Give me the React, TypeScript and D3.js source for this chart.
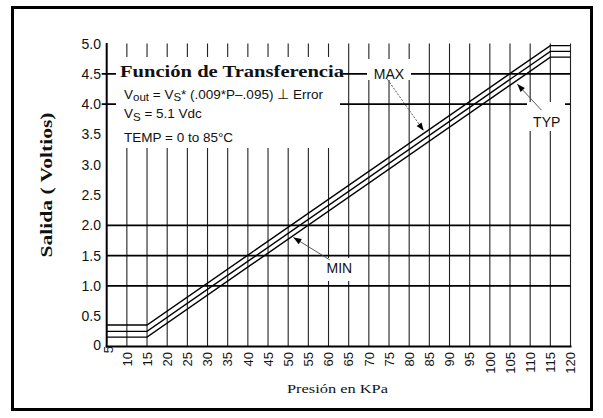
import React from 'react';
import * as d3 from 'd3';

const W = 603;
const H = 418;

// x-axis (pressure, KPa) tick values
const pressureTicks = [5, 10, 15, 20, 25, 30, 35, 40, 45, 50, 55, 60, 65, 70, 75, 80, 85, 90, 95, 100, 105, 110, 115, 120];
// y-axis (output, volts) tick values and labels
const voltTicks = [0, 0.5, 1.0, 1.5, 2.0, 2.5, 3.0, 3.5, 4.0, 4.5, 5.0];
const voltLabels = ['0', '0.5', '1.0', '1.5', '2.0', '2.5', '3.0', '3.5', '4.0', '4.5', '5.0'];
// horizontal grid lines
const fullGrid = [1.0, 1.5, 2.0];
const partialGrid = [4.0, 4.5];

// transfer function curves (breakpoints in KPa)
const curveP = [5, 15, 115, 120];
const maxV = [0.355, 0.355, 4.965, 4.965];
const typV = [0.25, 0.25, 4.87, 4.87];
const minV = [0.155, 0.155, 4.775, 4.775];

// annotations
const annLabels = ['MAX', 'TYP', 'MIN'];
const annLabelP = [75, 114.1, 62.7];
const annLabelV = [4.5, 3.71, 1.3];
const annFromP = [74.6, 112.8, 60.3];
const annFromV = [4.41, 3.9, 1.43];
const annToP = [83.6, 106.8, 51.3];
const annToV = [3.56, 4.33, 1.8];
const annDashed = [true, false, false];

const x = d3.scaleLinear().domain([5, 120]).range([106.7, 570.5]);
const y = d3.scaleLinear().domain([0, 5]).range([346.5, 43.5]);

const NARROW = "'Liberation Sans Narrow', 'Arial Narrow', 'Liberation Sans', Arial, sans-serif";
const SANS = "'Liberation Sans', Arial, sans-serif";
const SERIF = "'Liberation Serif', 'Times New Roman', serif";

export default function App() {
  const line = d3
    .line<number>()
    .x((_, i) => x(curveP[i]))
    .y((v) => y(v));

  const x0 = x(5);
  const x1 = x(120);
  const yTop = y(5);
  const yBot = y(0);

  const arrowHead = (fx: number, fy: number, tx: number, ty: number) => {
    const ang = Math.atan2(ty - fy, tx - fx);
    const len = 8;
    const wid = 3;
    const bx = tx - len * Math.cos(ang);
    const by = ty - len * Math.sin(ang);
    const px = -Math.sin(ang) * wid;
    const py = Math.cos(ang) * wid;
    return `M${tx},${ty}L${bx + px},${by + py}L${bx - px},${by - py}Z`;
  };

  return (
    <svg
      width={W}
      height={H}
      style={{ position: 'absolute', left: 0, top: 0, background: '#fff' }}
    >
      <rect x={0} y={0} width={W} height={H} fill="#fff" />
      {/* outer frame */}
      <rect x={12.5} y={7.5} width={579} height={402} fill="none" stroke="#000" strokeWidth={3} />

      {/* vertical grid */}
      {pressureTicks.slice(1).map((p) => (
        <line key={'v' + p} x1={x(p)} x2={x(p)} y1={yTop} y2={yBot} stroke="#222" strokeWidth={1.1} />
      ))}
      {/* horizontal grid */}
      {fullGrid.map((v) => (
        <line key={'h' + v} x1={x0} x2={x1} y1={y(v)} y2={y(v)} stroke="#000" strokeWidth={1.8} />
      ))}
      {partialGrid.map((v) => (
        <line key={'p' + v} x1={x0 - 5} x2={x1} y1={y(v)} y2={y(v)} stroke="#000" strokeWidth={1.8} />
      ))}

      {/* white label backgrounds */}
      <rect x={116} y={57} width={224} height={91} fill="#fff" />
      <rect x={367} y={59} width={44} height={21} fill="#fff" />
      <rect x={527} y={102} width={38} height={29} fill="#fff" />
      <rect x={321} y={258} width={36} height={23} fill="#fff" />

      {/* axes */}
      <line x1={x0} x2={x0} y1={yTop - 0.5} y2={yBot + 1} stroke="#000" strokeWidth={2} />
      <line x1={x0 - 1} x2={x1 + 1} y1={yBot} y2={yBot} stroke="#000" strokeWidth={2} />

      {/* curves */}
      {[maxV, typV, minV].map((vals, i) => (
        <path key={'c' + i} d={line(vals) || ''} fill="none" stroke="#000" strokeWidth={1.4} />
      ))}

      {/* y tick labels */}
      {voltTicks.map((v, i) => (
        <text
          key={'yl' + v}
          x={101}
          y={y(v) - (i === 0 ? 2 : 0)}
          dy="0.36em"
          textAnchor="end"
          fontFamily={NARROW}
          fontSize={14}
          fill="#111"
        >
          {voltLabels[i]}
        </text>
      ))}

      {/* x tick labels */}
      {pressureTicks.map((p, i) => (
        <text
          key={'xl' + p}
          transform={`translate(${x(p) + (i === 0 ? 2 : 0)},${i === 0 ? yBot - 0.5 : yBot + 5.5}) rotate(-90)`}
          dy="0.36em"
          textAnchor="end"
          fontFamily={SANS}
          fontSize={13}
          fill="#111"
        >
          {String(p)}
        </text>
      ))}

      {/* axis titles */}
      <text
        transform="translate(52,185) rotate(-90)"
        textAnchor="middle"
        fontFamily={SERIF}
        fontWeight="bold"
        fontSize={17}
        textLength={145}
        lengthAdjust="spacingAndGlyphs"
        fill="#111"
      >
        Salida ( Voltios)
      </text>
      <text
        x={337.5}
        y={393}
        textAnchor="middle"
        fontFamily={SERIF}
        fontSize={13}
        textLength={101}
        lengthAdjust="spacingAndGlyphs"
        fill="#111"
      >
        Presión en KPa
      </text>

      {/* transfer function box text */}
      <text
        x={120}
        y={76.5}
        fontFamily={SERIF}
        fontWeight="bold"
        fontSize={17}
        textLength={224}
        lengthAdjust="spacingAndGlyphs"
        fill="#111"
      >
        Función de Transferencia
      </text>
      <text x={124} y={98.5} fontFamily={NARROW} fontSize={13.5} fill="#111">
        V<tspan fontSize={11.5} dy={2}>out</tspan>
        <tspan dy={-2}> = V</tspan>
        <tspan fontSize={11.5} dy={2}>S</tspan>
        <tspan dy={-2}>* (.009*P–.095) ⊥ Error</tspan>
      </text>
      <text x={124} y={117.5} fontFamily={NARROW} fontSize={13.5} fill="#111">
        V<tspan fontSize={11.5} dy={3}>S</tspan>
        <tspan dy={-3}> = 5.1 Vdc</tspan>
      </text>
      <text x={124} y={141.5} fontFamily={NARROW} fontSize={13.5} fill="#111">
        TEMP = 0 to 85°C
      </text>

      {/* annotations */}
      {annLabels.map((lab, i) => {
        const fx = x(annFromP[i]);
        const fy = y(annFromV[i]);
        const tx = x(annToP[i]);
        const ty = y(annToV[i]);
        return (
          <g key={'a' + lab}>
            <line
              x1={fx}
              y1={fy}
              x2={tx}
              y2={ty}
              stroke="#444"
              strokeWidth={0.9}
              strokeDasharray={annDashed[i] ? '2,1.5' : undefined}
            />
            <path d={arrowHead(fx, fy, tx, ty)} fill="#000" />
            <text
              x={x(annLabelP[i])}
              y={y(annLabelV[i])}
              dy="0.36em"
              textAnchor="middle"
              fontFamily={NARROW}
              fontSize={14}
              fill="#111"
            >
              {lab}
            </text>
          </g>
        );
      })}
    </svg>
  );
}
